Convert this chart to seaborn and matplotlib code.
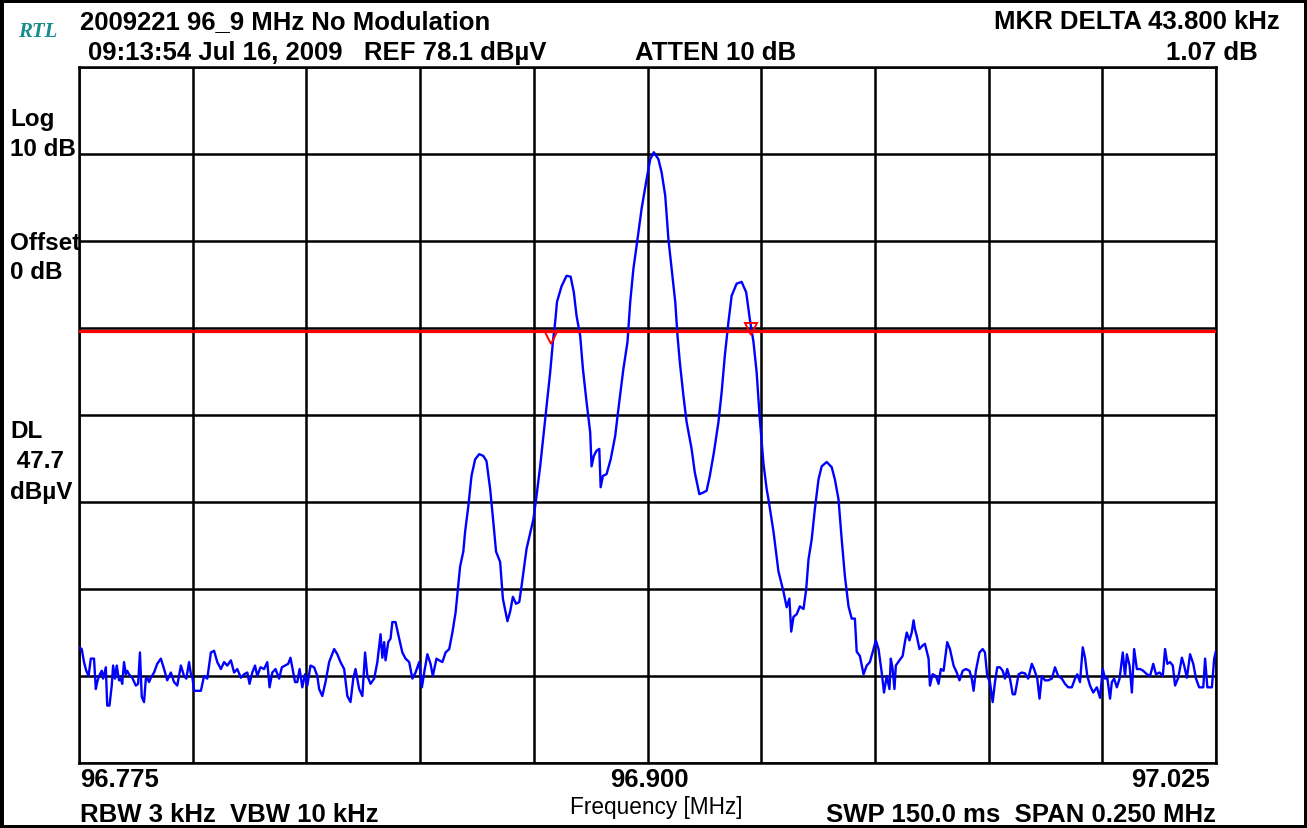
import numpy as np
import pandas as pd
import matplotlib
matplotlib.use('Agg')
import matplotlib.pyplot as plt
import matplotlib.transforms as mtransforms
from matplotlib.patches import Rectangle
import seaborn as sns

# analyzer settings
f_start, f_stop = 96.775, 97.025      # MHz
ref_level = 78.1                      # dBuV, top of screen
db_per_div = 10
display_line = 47.7                   # dBuV

# trace: left noise floor
freq_left = [96.7750, 96.7756, 96.7761, 96.7766, 96.7771, 96.7776, 96.7783, 96.7787, 96.7790, 96.7794,
             96.7800, 96.7803, 96.7809, 96.7812, 96.7817, 96.7822, 96.7825, 96.7829, 96.7833, 96.7838,
             96.7842, 96.7845, 96.7849, 96.7853, 96.7856, 96.7860, 96.7867, 96.7875, 96.7880, 96.7884,
             96.7888, 96.7893, 96.7897, 96.7900, 96.7904, 96.7908, 96.7915, 96.7922, 96.7930, 96.7937,
             96.7944, 96.7952, 96.7959, 96.7966, 96.7974, 96.7981, 96.7986, 96.7992, 96.7996, 96.7999,
             96.8003, 96.8010, 96.8018, 96.8025, 96.8032, 96.8040, 96.8047, 96.8054, 96.8062, 96.8069,
             96.8076, 96.8084, 96.8091, 96.8098, 96.8106, 96.8113, 96.8120, 96.8125, 96.8131, 96.8137,
             96.8142, 96.8149, 96.8157, 96.8164, 96.8169, 96.8175, 96.8182, 96.8190, 96.8196, 96.8203,
             96.8210, 96.8215, 96.8219, 96.8225, 96.8230, 96.8235, 96.8241, 96.8247, 96.8252, 96.8259,
             96.8267, 96.8274, 96.8278, 96.8285, 96.8292, 96.8300, 96.8311, 96.8318, 96.8325, 96.8333,
             96.8340, 96.8347, 96.8353, 96.8358, 96.8366, 96.8373, 96.8379, 96.8384, 96.8391, 96.8399,
             96.8406, 96.8413, 96.8417, 96.8421, 96.8424, 96.8430, 96.8435, 96.8439, 96.8446, 96.8454,
             96.8461, 96.8468, 96.8476, 96.8483, 96.8490, 96.8498, 96.8504, 96.8509, 96.8516, 96.8523,
             96.8528, 96.8536, 96.8542, 96.8549, 96.8556, 96.8564, 96.8571, 96.8578]
level_left = [11.4, 11.2, 9.7, 8.7, 8.1, 10.1, 10.1, 6.6, 7.4, 8.1,
              8.7, 7.8, 9.1, 4.7, 4.7, 7.0, 9.3, 7.8, 9.3, 7.6,
              7.8, 7.2, 9.7, 8.3, 8.7, 8.3, 7.9, 7.0, 7.2, 10.8,
              5.7, 5.1, 7.8, 7.9, 7.4, 7.9, 8.5, 9.5, 10.1, 8.9,
              7.6, 8.5, 7.4, 7.0, 9.3, 8.1, 7.8, 9.7, 8.3, 8.1,
              6.4, 6.4, 6.4, 8.1, 7.8, 10.8, 11.0, 9.7, 8.9, 9.7,
              9.3, 9.9, 8.5, 8.9, 7.9, 8.3, 8.5, 7.2, 8.5, 9.3,
              8.1, 9.1, 8.9, 9.7, 6.8, 8.5, 8.9, 7.8, 9.1, 9.3,
              9.5, 10.2, 9.1, 7.4, 7.4, 8.9, 6.8, 8.3, 7.0, 9.3,
              9.1, 8.1, 6.6, 5.8, 7.4, 9.7, 11.2, 10.6, 9.7, 8.9,
              5.8, 5.1, 7.8, 8.9, 6.6, 5.8, 10.8, 8.1, 7.2, 7.8,
              9.7, 12.9, 10.2, 12.0, 9.9, 12.0, 12.4, 14.3, 14.3, 12.4,
              10.8, 10.1, 9.7, 7.8, 8.5, 9.7, 6.8, 8.5, 10.6, 9.5,
              8.1, 10.1, 9.9, 9.7, 10.8, 11.2, 13.1, 15.4]

# carrier and sidebands
freq_sig = [96.8588, 96.8595, 96.8599, 96.8606, 96.8613, 96.8621, 96.8630, 96.8639, 96.8646, 96.8654,
            96.8661, 96.8667, 96.8676, 96.8682, 96.8692, 96.8698, 96.8704, 96.8711, 96.8718, 96.8723,
            96.8734, 96.8749, 96.8755, 96.8764, 96.8775, 96.8786, 96.8792, 96.8797, 96.8801, 96.8811,
            96.8822, 96.8831, 96.8838, 96.8844, 96.8852, 96.8858, 96.8866, 96.8874, 96.8877, 96.8882,
            96.8888, 96.8894, 96.8897, 96.8902, 96.8910, 96.8919, 96.8929, 96.8936, 96.8947, 96.8956,
            96.8962, 96.8969, 96.8978, 96.8987, 96.8997, 96.9006, 96.9014, 96.9024, 96.9031, 96.9039,
            96.9046, 96.9053, 96.9061, 96.9066, 96.9071, 96.9079, 96.9086, 96.9097, 96.9104, 96.9114,
            96.9123, 96.9130, 96.9137, 96.9146, 96.9156, 96.9163, 96.9170, 96.9178, 96.9185, 96.9196,
            96.9207, 96.9217, 96.9225, 96.9233, 96.9240, 96.9247, 96.9255, 96.9262, 96.9266, 96.9277,
            96.9288, 96.9299, 96.9306, 96.9312, 96.9316, 96.9321, 96.9328, 96.9335, 96.9343, 96.9349,
            96.9354, 96.9361, 96.9368, 96.9376, 96.9383, 96.9394, 96.9405, 96.9412, 96.9420, 96.9427,
            96.9434, 96.9442, 96.9449, 96.9456, 96.9460]
level_sig = [20.7, 22.4, 24.7, 27.6, 31.1, 33.0, 33.6, 33.4, 32.8, 29.6,
             25.8, 22.4, 21.2, 17.0, 14.4, 15.5, 17.2, 16.4, 16.6, 18.4,
             22.7, 26.1, 28.4, 32.2, 37.6, 43.0, 46.5, 48.8, 51.1, 52.9,
             54.1, 54.0, 52.2, 49.5, 47.2, 43.4, 39.6, 36.1, 32.2, 33.4,
             34.0, 34.2, 29.8, 31.1, 31.3, 33.0, 35.7, 38.8, 43.4, 46.5,
             51.1, 54.9, 58.3, 61.8, 64.9, 67.5, 68.3, 67.5, 66.0, 63.3,
             58.3, 54.9, 51.1, 47.2, 44.2, 40.3, 37.3, 34.2, 31.5, 29.0,
             29.2, 29.4, 31.1, 33.8, 37.3, 40.7, 44.9, 48.8, 51.8, 53.2,
             53.4, 52.2, 49.1, 46.5, 43.0, 37.6, 32.5, 29.6, 28.4, 24.7,
             20.1, 17.8, 16.0, 17.0, 13.2, 14.9, 15.2, 16.1, 15.8, 18.1,
             21.5, 23.8, 27.3, 30.7, 32.2, 32.7, 32.1, 30.7, 28.4, 23.8,
             19.6, 16.1, 14.7, 14.7, 10.9]

# right noise floor
freq_right = [96.9467, 96.9475, 96.9482, 96.9489, 96.9497, 96.9502, 96.9508, 96.9515, 96.9520, 96.9526,
              96.9532, 96.9535, 96.9539, 96.9543, 96.9546, 96.9554, 96.9561, 96.9566, 96.9570, 96.9576,
              96.9581, 96.9585, 96.9588, 96.9592, 96.9598, 96.9605, 96.9610, 96.9618, 96.9621, 96.9627,
              96.9634, 96.9640, 96.9645, 96.9651, 96.9659, 96.9665, 96.9673, 96.9680, 96.9686, 96.9693,
              96.9700, 96.9708, 96.9713, 96.9717, 96.9722, 96.9730, 96.9737, 96.9742, 96.9747, 96.9753,
              96.9759, 96.9764, 96.9769, 96.9775, 96.9781, 96.9786, 96.9791, 96.9797, 96.9803, 96.9808,
              96.9816, 96.9823, 96.9830, 96.9837, 96.9845, 96.9850, 96.9857, 96.9862, 96.9867, 96.9874,
              96.9881, 96.9889, 96.9896, 96.9903, 96.9911, 96.9918, 96.9925, 96.9933, 96.9940, 96.9945,
              96.9951, 96.9957, 96.9962, 96.9967, 96.9973, 96.9980, 96.9988, 96.9995, 97.0001, 97.0006,
              97.0011, 97.0017, 97.0021, 97.0026, 97.0032, 97.0038, 97.0045, 97.0050, 97.0054, 97.0060,
              97.0065, 97.0070, 97.0076, 97.0083, 97.0090, 97.0098, 97.0105, 97.0112, 97.0118, 97.0126,
              97.0133, 97.0138, 97.0143, 97.0149, 97.0155, 97.0160, 97.0167, 97.0175, 97.0180, 97.0186,
              97.0193, 97.0200, 97.0206, 97.0213, 97.0222, 97.0226, 97.0231, 97.0241, 97.0246, 97.0250]
level_right = [10.4, 8.3, 9.3, 9.7, 11.2, 12.2, 11.2, 8.5, 6.2, 8.1,
               6.6, 10.1, 8.9, 6.6, 9.3, 9.9, 10.4, 12.0, 13.1, 12.2,
               13.1, 14.5, 13.5, 12.7, 11.2, 11.6, 11.8, 10.1, 7.0, 8.3,
               8.1, 7.2, 8.9, 8.7, 12.0, 11.2, 9.3, 8.5, 7.6, 8.7,
               8.9, 8.7, 7.8, 6.4, 8.7, 10.8, 11.2, 10.8, 8.1, 7.4,
               5.1, 7.4, 9.1, 9.1, 8.7, 7.8, 8.9, 7.8, 6.0, 6.0,
               8.3, 8.5, 8.4, 7.8, 9.5, 8.9, 7.8, 5.5, 8.1, 7.6,
               7.6, 7.8, 9.1, 8.1, 7.8, 7.2, 6.8, 6.8, 7.8, 8.3,
               7.4, 11.4, 10.2, 8.1, 7.0, 6.2, 6.8, 5.6, 8.9, 7.8,
               7.9, 5.5, 7.4, 7.8, 6.8, 7.8, 10.8, 8.1, 10.6, 9.3,
               6.2, 11.2, 8.9, 8.9, 8.7, 8.3, 8.1, 9.5, 8.3, 8.5,
               8.1, 11.2, 9.5, 9.7, 9.3, 7.0, 7.9, 10.2, 9.3, 7.9,
               10.6, 9.5, 7.8, 6.8, 6.8, 10.1, 6.8, 6.8, 10.1, 11.0]

# delta markers
marker_freq = [96.8788, 96.9228]
marker_level = [46.3, 47.4]

trace = pd.DataFrame({
    'freq': freq_left + freq_sig + freq_right,
    'level': level_left + level_sig + level_right,
})

sns.set_theme(style='white')
plt.rcParams['font.family'] = ['Liberation Sans', 'DejaVu Sans']

W, H = 1307, 829
fig = plt.figure(figsize=(W / 100, H / 100), dpi=100)
fig.patch.set_facecolor('white')
ax = fig.add_axes([79 / W, 1 - 764 / H, 1137 / W, 696 / H])

sns.lineplot(data=trace, x='freq', y='level', estimator=None, sort=False,
             color='#0000ff', linewidth=1.7, ax=ax, zorder=4)
ax.axhline(display_line, color='#ff0000', lw=2.3, zorder=5)

# markers: tip of the triangle sits on the trace
tip = mtransforms.offset_copy(ax.transData, fig=fig, x=0, y=4, units='points')
ax.plot(marker_freq, marker_level, ls='none', marker='v', ms=8, mfc='none',
        mec='#ff0000', mew=1.4, transform=tip, zorder=6, clip_on=False)

ax.set_xlim(f_start, f_stop)
ax.set_ylim(ref_level - 8 * db_per_div, ref_level)
ax.set_xticks(np.linspace(f_start, f_stop, 11))
ax.set_yticks(ref_level - db_per_div * np.arange(9))
ax.grid(True, color='black', lw=1.8)
ax.tick_params(length=0, labelbottom=False, labelleft=False)
ax.set_xlabel('')
ax.set_ylabel('')
for s in ax.spines.values():
    s.set_color('black')
    s.set_linewidth(1.8)


def put(x, y, s, ha='left', size=18.5, weight='bold', **kw):
    fig.text(x / W, 1 - y / H, s, ha=ha, va='baseline', fontsize=size,
             fontweight=weight, color=kw.pop('color', 'black'), **kw)


put(18, 37, 'RTL', size=15, weight='bold', style='italic',
    family='Liberation Serif', color='#1a8c8c')
put(80, 29, '2009221 96_9 MHz No Modulation')
put(1280, 29, 'MKR DELTA 43.800 kHz', ha='right')
put(88, 60, '09:13:54 Jul 16, 2009   REF 78.1 dBµV')
put(635, 60, 'ATTEN 10 dB')
put(1258, 60, '1.07 dB', ha='right')

for y, s in [(126, 'Log'), (156, '10 dB'), (250, 'Offset'), (279, '0 dB'),
             (438, 'DL'), (468, ' 47.7'), (499, 'dBµV')]:
    put(10, y, s, size=17.5)

put(80, 787, '96.775')
put(649, 787, '96.900', ha='center')
put(1210, 787, '97.025', ha='right')
put(80, 822, 'RBW 3 kHz  VBW 10 kHz')
put(656, 814, 'Frequency [MHz]', ha='center', size=16.3, weight='normal')
put(1216, 822, 'SWP 150.0 ms  SPAN 0.250 MHz', ha='right')

fig.add_artist(Rectangle((0, 0), 1, 1, transform=fig.transFigure, fill=False,
                         edgecolor='black', lw=5))

fig.savefig('out.png', dpi=100)
